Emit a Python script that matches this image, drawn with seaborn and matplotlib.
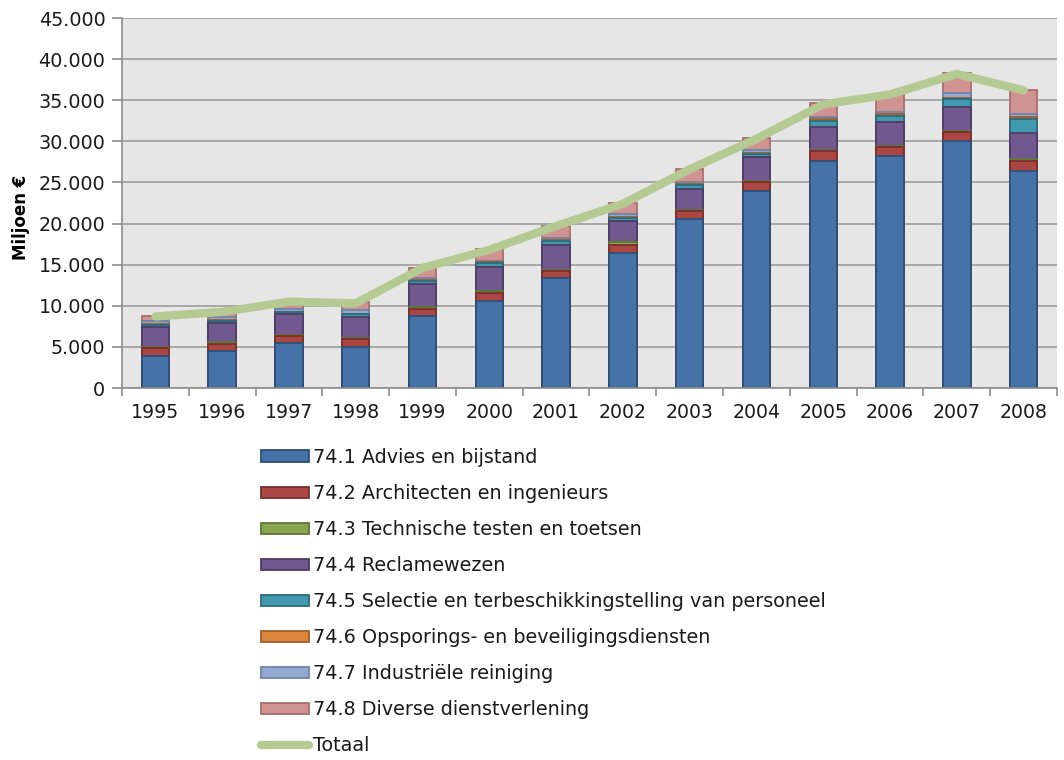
import numpy as np
import pandas as pd
import matplotlib
matplotlib.use("Agg")
import matplotlib.pyplot as plt
from matplotlib.patches import Patch
from matplotlib.lines import Line2D
from matplotlib.ticker import FuncFormatter, MultipleLocator, FixedLocator
import seaborn as sns

# Omzet zakelijke dienstverlening (SBI 74), miljoen euro
years = ["1995", "1996", "1997", "1998", "1999", "2000", "2001",
         "2002", "2003", "2004", "2005", "2006", "2007", "2008"]

advies      = [3.85, 4.50, 5.45, 4.95, 8.80, 10.60, 13.35, 16.40, 20.50, 23.97, 27.65, 28.20, 30.05, 26.40]
architecten = [1.00, 0.80, 0.90, 0.95, 0.80, 1.00, 0.90, 1.00, 1.05, 1.05, 1.15, 1.10, 1.05, 1.25]
testen      = [0.15, 0.25, 0.15, 0.15, 0.25, 0.20, 0.15, 0.30, 0.15, 0.20, 0.20, 0.15, 0.20, 0.25]
reclame     = [2.40, 2.30, 2.50, 2.60, 2.85, 2.95, 3.00, 2.65, 2.45, 2.85, 2.80, 2.85, 2.90, 3.10]
selectie    = [0.25, 0.30, 0.20, 0.30, 0.35, 0.45, 0.45, 0.30, 0.55, 0.45, 0.70, 0.80, 0.90, 1.70]
opsporing   = [0.10, 0.10, 0.10, 0.10, 0.10, 0.10, 0.15, 0.15, 0.10, 0.10, 0.20, 0.20, 0.20, 0.20]
reiniging   = [0.40, 0.40, 0.30, 0.40, 0.25, 0.20, 0.30, 0.40, 0.20, 0.30, 0.30, 0.30, 0.55, 0.40]
diverse     = [0.60, 0.55, 0.50, 0.95, 1.20, 1.40, 1.40, 1.35, 1.60, 1.50, 1.70, 2.10, 2.45, 3.00]
totaal      = [8.70, 9.25, 10.50, 10.30, 14.60, 16.80, 19.70, 22.40, 26.60, 30.30, 34.50, 35.70, 38.20, 36.20]

labels = ["74.1 Advies en bijstand",
          "74.2 Architecten en ingenieurs",
          "74.3 Technische testen en toetsen",
          "74.4 Reclamewezen",
          "74.5 Selectie en terbeschikkingstelling van personeel",
          "74.6 Opsporings- en beveiligingsdiensten",
          "74.7 Industriële reiniging",
          "74.8 Diverse dienstverlening"]
series = [advies, architecten, testen, reclame, selectie, opsporing, reiniging, diverse]

colors = ["#4572A7", "#AA4643", "#89A54E", "#71588F",
          "#4198AF", "#DB843D", "#93A9CF", "#D19392"]
edges = ["#2F4F78", "#7A2E2C", "#5F7535", "#4E3C66",
         "#2C6B7C", "#A05E27", "#6F84A8", "#A86E6D"]
line_color = "#B5CA92"

sns.set_theme(style="white")
plt.rcParams["font.family"] = ["DejaVu Sans"]

fig = plt.figure(figsize=(10.64, 7.6), dpi=100)
ax = fig.add_axes([122 / 1064, 1 - 388 / 760, (1057 - 122) / 1064, 370 / 760])
ax.set_facecolor("#E6E6E6")

# stacked bars: draw cumulative totals from the top layer downwards
values = np.array(series) * 1000.0
cum = np.cumsum(values, axis=0)
for i in range(len(series) - 1, -1, -1):
    df = pd.DataFrame({"jaar": years, "waarde": cum[i]})
    sns.barplot(data=df, x="jaar", y="waarde", order=years, color=colors[i],
                edgecolor=edges[i], linewidth=1.3, width=0.41, saturation=1,
                ax=ax, zorder=3)

# total line
df_tot = pd.DataFrame({"pos": np.arange(len(years)), "totaal": np.array(totaal) * 1000.0})
sns.lineplot(data=df_tot, x="pos", y="totaal", color=line_color, linewidth=6,
             solid_capstyle="round", ax=ax, zorder=4)

ax.set_xlim(-0.5, len(years) - 0.5)
ax.set_ylim(0, 45000)
ax.yaxis.set_major_locator(MultipleLocator(5000))
ax.yaxis.set_major_formatter(FuncFormatter(lambda v, p: f"{int(round(v)):,}".replace(",", ".")))
ax.grid(axis="y", color="#9C9C9C", linewidth=1.2, zorder=0)
ax.grid(axis="x", visible=False)
ax.set_axisbelow(True)

ax.set_xticks(np.arange(len(years)))
ax.set_xticklabels(years)
ax.xaxis.set_minor_locator(FixedLocator(np.arange(-0.5, len(years), 1.0)))
ax.tick_params(axis="x", which="major", length=0, pad=11, labelsize=13.6, labelcolor="#1A1A1A")
ax.tick_params(axis="x", which="minor", length=6, width=1.2, color="#8C8C8C", direction="out")
ax.tick_params(axis="y", which="major", length=7, width=1.2, color="#8C8C8C", direction="out",
               labelsize=13.8, labelcolor="#1A1A1A", pad=5)
ax.tick_params(bottom=True, which="minor")
ax.tick_params(axis="y", left=True)

for side in ["top", "right"]:
    ax.spines[side].set_visible(False)
for side in ["left", "bottom"]:
    ax.spines[side].set_color("#8C8C8C")
    ax.spines[side].set_linewidth(1.2)
    ax.spines[side].set_zorder(5)

ax.set_xlabel("")
ax.set_ylabel("Miljoen €", fontsize=12, fontweight="bold", color="#000000")
ax.yaxis.set_label_coords((30 - 122) / 935, (388 - 217) / 370)

handles = [Patch(facecolor=c, edgecolor=e, linewidth=1.3) for c, e in zip(colors, edges)]
handles.append(Line2D([0], [0], color=line_color, linewidth=6, solid_capstyle="round"))
leg = fig.legend(handles, labels + ["Totaal"], loc="upper left",
                 bbox_to_anchor=(261 / 1064, 1 - 448 / 760), frameon=False,
                 fontsize=13.8, handlelength=2.5, handleheight=0.55, handletextpad=0.22,
                 labelspacing=0.89, borderaxespad=0, borderpad=0)
for t in leg.get_texts():
    t.set_color("#1A1A1A")

fig.savefig("out.png", dpi=100, facecolor="white")
